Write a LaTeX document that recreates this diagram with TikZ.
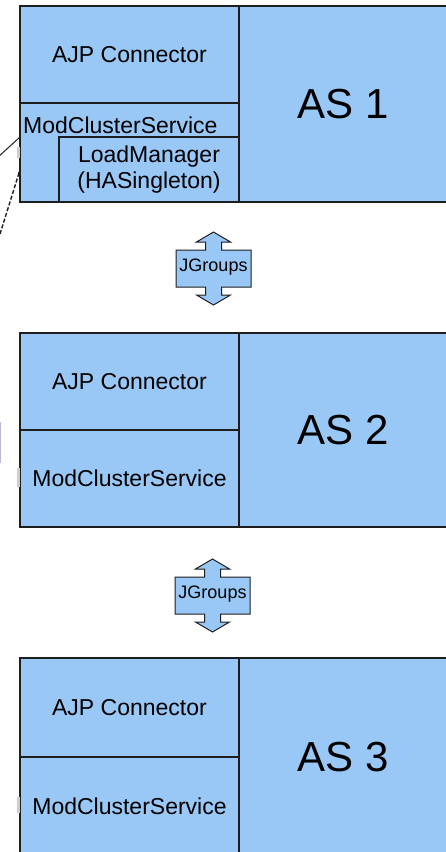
\documentclass[tikz,border=0pt]{standalone}
\usepackage{fontspec}
\setmainfont{Liberation Sans}
\definecolor{boxblue}{RGB}{153,200,246}
\definecolor{edge}{RGB}{30,30,30}
\definecolor{tabgray}{RGB}{205,205,205}
\definecolor{stripblue}{RGB}{185,185,220}
\tikzset{
  sec/.style={draw=edge, fill=boxblue, line width=1.3pt, rectangle, inner sep=0pt,
    font=\fontsize{23}{26}\selectfont, align=center},
  asbox/.style={sec, font=\fontsize{42}{46}\selectfont},
  lbl/.style={inner sep=0pt, font=\fontsize{23}{26}\selectfont},
  tab/.style={fill=tabgray},
  jg/.pic={
    \draw[draw=edge, fill=boxblue, line width=1pt]
      (0,-36.5) -- (17,-26.5) -- (8,-26.5) -- (8,-18.5) -- (37.5,-18.5) -- (37.5,18.5)
      -- (8,18.5) -- (8,26.5) -- (17,26.5) -- (0,36.5) -- (-17,26.5) -- (-8,26.5)
      -- (-8,18.5) -- (-37.5,18.5) -- (-37.5,-18.5) -- (-8,-18.5) -- (-8,-26.5)
      -- (-17,-26.5) -- cycle;
    \node[inner sep=0pt, font=\fontsize{18}{20}\selectfont] (-t) at (0,-1.5) {JGroups};
  }
}
\begin{document}
\begin{tikzpicture}[x=1pt,y=-1pt]
\useasboundingbox (0,0) rectangle (446,852);

% AS 1
\node[asbox, minimum width=208pt, minimum height=196pt] (as1) at (343,104) {AS 1};
\node[sec, minimum width=219pt, minimum height=97pt] (ajp1) at (129.5,54.5) {AJP Connector};
\node[sec, minimum width=219pt, minimum height=99pt] (mcs1) at (129.5,152.5) {};
\node[lbl, anchor=west] (mcsl1) at (23,125) {ModClusterService};
\node[sec, minimum width=180pt, minimum height=65pt] (lm1) at (149,169.5) {LoadManager\\(HASingleton)};

% AS 2
\node[asbox, minimum width=208pt, minimum height=194pt] (as2) at (343,430) {AS 2};
\node[sec, minimum width=219pt, minimum height=97pt] (ajp2) at (129.5,381.5) {AJP Connector};
\node[sec, minimum width=219pt, minimum height=97pt] (mcs2) at (129.5,478.5) {ModClusterService};

% AS 3
\node[asbox, minimum width=208pt, minimum height=198pt] (as3) at (343,757) {AS 3};
\node[sec, minimum width=219pt, minimum height=99pt] (ajp3) at (129.5,707.5) {AJP Connector};
\node[sec, minimum width=219pt, minimum height=99pt] (mcs3) at (129.5,806.5) {ModClusterService};

% JGroups arrows
\pic (jg1) at (213.5,268.5) {jg};
\pic (jg2) at (212.5,595.5) {jg};

% left-edge fragments
\coordinate (s1a) at (-3,158);
\coordinate (s1b) at (20,137);
\draw[edge, line width=1pt] (s1a) -- (s1b);
\coordinate (d1a) at (0,234);
\coordinate (d1b) at (19,173);
\draw[edge, line width=1.4pt, dash pattern=on 4pt off 2pt] (d1a) -- (d1b);
\fill[edge] (17.5,172) rectangle (20,176);
\fill[tab] (17,147) rectangle (19.5,158);
\fill[tab] (17,468) rectangle (19.5,487);
\fill[tab] (17,797) rectangle (19.5,813);
\fill[stripblue] (0,422) rectangle (1.2,463);
\end{tikzpicture}
\end{document}
